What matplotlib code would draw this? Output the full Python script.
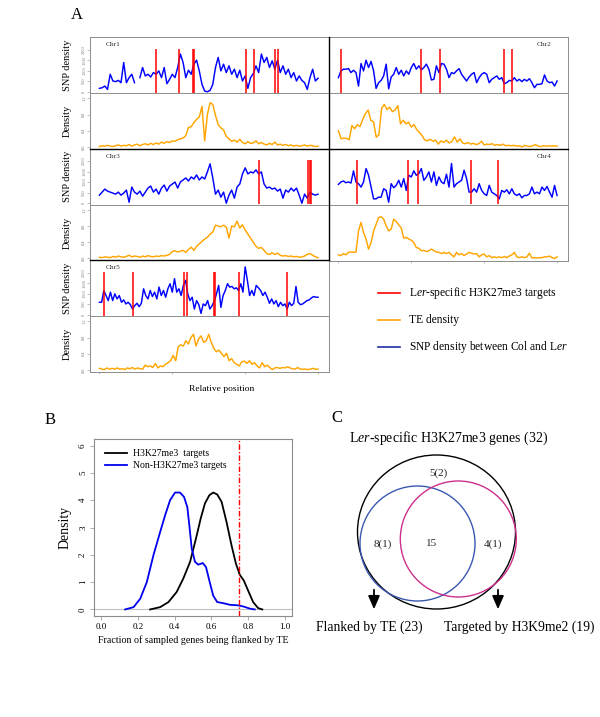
import numpy as np
import matplotlib
matplotlib.use('Agg')
from matplotlib import pyplot as plt
from matplotlib.lines import Line2D
from matplotlib.patches import Ellipse

plt.rcParams['font.family'] = ['Liberation Serif', 'DejaVu Serif']
plt.rcParams['mathtext.fontset'] = 'custom'
plt.rcParams['mathtext.rm'] = 'Liberation Serif'
plt.rcParams['mathtext.it'] = 'Liberation Serif:italic'

# ---- panel A data (relative position 0..1, evenly spaced) ----
chr1_snp = [160, 190, 270, 110, 830, 510, 480, 540, 430, 1390, 430, 670, 830, 430, np.nan,
            670, 1150, 750, 830, 700, 910, 830, 990, 670, 1150, 380, 590, 830, 670, 1150,
            1790, 1390, 670, 1020, 830, 1310, 1500, 990, 350, 30, 0, 60, 350, 1150, 1630,
            990, 1310, 910, 1230, 830, 1070, 670, 1020, 510, 750, 160, 670, 860, 1230, 910,
            1790, 1390, 1630, 1150, 1470, 1070, 1500, 910, 1230, 830, 1070, 670, 910, 510,
            750, 540, 430, 110, 670, 1070, 510, 640]
chr1_te = [0.01, 0.03, 0.02, 0.04, 0.02, 0.01, 0.03, 0.05, 0.02, 0.04, 0.03, 0.06, 0.02, 0.05,
           0.07, 0.03, 0.06, 0.08, 0.05, 0.09, 0.06, 0.10, 0.07, 0.12, 0.09, 0.13, 0.11, 0.15,
           0.14, 0.18, 0.20, 0.22, 0.28, 0.48, 0.50, 0.60, 0.68, 0.74, 1.00, 0.15, 0.80, 1.09,
           1.05, 0.78, 0.55, 0.47, 0.42, 0.26, 0.20, 0.14, 0.17, 0.12, 0.19, 0.11, 0.08, 0.13,
           0.09, 0.10, 0.15, 0.08, 0.11, 0.07, 0.05, 0.09, 0.06, 0.12, 0.05, 0.07, 0.04, 0.06,
           0.03, 0.05, 0.02, 0.04, 0.02, 0.03, 0.05, 0.02, 0.04, 0.03, 0.01, 0.02]
chr1_targets = [0.257, 0.364, 0.426, 0.431, 0.671, 0.708, 0.801, 0.819]

chr2_snp = [670, 990, 1070, 1070, 1100, 910, 1020, 910, 270, 1340, 990, 1500, 1150, 1440, 990,
            160, 430, 540, 750, 1310, 140, 700, 830, 1150, 830, 1020, 750, 990, 830, 1150,
            1340, 1070, 1230, 1040, 1150, 1310, 1070, 560, 590, 1230, 910, 1340, 1310, 1070,
            670, 910, 860, 990, 1100, 830, 670, 510, 700, 830, 910, 430, 670, 830, 910, 830,
            430, 590, 670, 750, 590, 670, 380, 430, 540, 510, 670, 510, 590, 480, 590, 510,
            620, 430, 190, 350, 350, 380, 800, 510, 430, 460, 270, 510]
chr2_te = [0.40, 0.20, 0.22, 0.21, 0.18, 0.53, 0.45, 0.55, 0.50, 0.68, 0.82, 0.91, 0.66, 0.62,
           0.24, 0.30, 0.95, 1.05, 0.92, 0.98, 0.87, 0.91, 1.02, 0.57, 0.66, 0.57, 0.61, 0.49,
           0.55, 0.43, 0.36, 0.28, 0.17, 0.15, 0.19, 0.14, 0.17, 0.07, 0.15, 0.11, 0.17, 0.10,
           0.13, 0.25, 0.12, 0.20, 0.10, 0.08, 0.11, 0.07, 0.09, 0.06, 0.08, 0.14, 0.05, 0.07,
           0.06, 0.08, 0.04, 0.06, 0.04, 0.07, 0.03, 0.04, 0.03, 0.04, 0.02, 0.03, 0.00, 0.04,
           0.02, 0.01, 0.03, 0.06, 0.02, 0.01, 0.03, 0.02, 0.03, 0.02, 0.03, 0.02]
chr2_targets = [0.012, 0.376, 0.463, 0.756, 0.793]

chr3_snp = [384, 528, 672, 576, 528, 480, 432, 528, 384, 480, 624, 48, 768, 528, 432, 576, 336,
            528, 720, 816, 528, 672, 432, 720, 864, 576, 816, 912, 1008, 720, 1008, 1104, 1200,
            1056, 1248, 1152, 1344, 1104, 1248, 1152, 1488, 1872, 1200, 432, 624, 288, 528, 0,
            384, 624, 240, 768, 912, 1392, 1680, 1392, 1488, 1440, 1584, 1392, 1488, 912, 720,
            768, 672, 720, 576, 672, 240, 624, 528, 720, 576, 720, 384, 0, 432, 240, 528, 432,
            384, 432]
chr3_te = [0.03, 0.02, 0.04, 0.03, 0.02, 0.05, 0.03, 0.06, 0.04, 0.03, 0.05, 0.08, 0.04, 0.06,
           0.05, 0.03, 0.06, 0.04, 0.07, 0.05, 0.04, 0.06, 0.05, 0.07, 0.06, 0.08, 0.10, 0.17,
           0.19, 0.16, 0.18, 0.20, 0.15, 0.22, 0.28, 0.20, 0.30, 0.36, 0.42, 0.48, 0.52, 0.60,
           0.65, 0.82, 0.80, 0.78, 0.82, 0.77, 0.50, 0.80, 0.78, 0.92, 0.75, 0.83, 0.70, 0.60,
           0.50, 0.40, 0.30, 0.25, 0.27, 0.20, 0.12, 0.10, 0.14, 0.10, 0.13, 0.08, 0.06, 0.07,
           0.05, 0.06, 0.04, 0.05, 0.03, 0.04, 0.06, 0.10, 0.12, 0.08, 0.04, 0.02]
chr3_targets = [0.729, 0.955, 0.961, 0.967]

chr4_snp = [896, 1008, 1056, 976, 1008, 960, 1536, 1008, 928, 768, 1008, 1648, 1328, 768, 208,
            208, 288, 288, 688, 608, 48, 928, 736, 848, 1088, 768, 1168, 608, 1328, 1248, 1536,
            1328, 1408, 1648, 1088, 1248, 1488, 1008, 1488, 848, 1248, 1008, 928, 1376, 768,
            1888, 768, 928, 1008, 1088, 1568, 1168, 528, 528, 688, 528, 928, 608, 448, 368, 848,
            528, 448, 368, 208, 608, 528, 640, 448, 688, 448, 368, 448, 256, 368, 368, 448, 768,
            448, 528, 448, 768, 608, 800, 528, 288, 848, 368]
chr4_te = [0.09, 0.07, 0.12, 0.09, 0.15, 0.16, 0.15, 0.16, 0.68, 0.89, 0.64, 0.48, 0.23, 0.39,
           0.68, 0.84, 1.01, 1.03, 0.97, 0.80, 0.68, 0.72, 0.97, 0.91, 0.83, 0.75, 0.50, 0.52,
           0.48, 0.45, 0.39, 0.27, 0.25, 0.19, 0.20, 0.17, 0.19, 0.23, 0.19, 0.16, 0.15, 0.12,
           0.15, 0.12, 0.15, 0.09, 0.04, 0.15, 0.09, 0.12, 0.07, 0.11, 0.15, 0.13, 0.11, 0.12,
           0.04, 0.09, 0.11, 0.04, 0.07, 0.02, 0.04, 0.02, 0.04, 0.02, 0.05, 0.02, 0.06, 0.09,
           0.15, 0.04, 0.02, 0.04, 0.02, 0.04, 0.13, 0.01, 0.02, 0.01, 0.02, 0.02, 0.04, 0.04,
           0.06, 0.02, 0.00, 0.04]
chr4_targets = [0.086, 0.318, 0.366, 0.605, 0.729]

chr5_snp = [592, 592, 1152, 912, 672, 1072, 672, 992, 752, 912, 592, 704, 512, 592, 480, 272,
            432, 544, 384, 544, 1232, 912, 752, 1152, 864, 1072, 752, 1312, 912, 1152, 832,
            1232, 1472, 1072, 1712, 1072, 1232, 912, 1392, 1632, 992, 672, 832, 272, 672, 480,
            64, 512, 432, 672, 272, 432, 640, 992, 1392, 352, 912, 1152, 1472, 1312, 1344, 1232,
            1280, 1152, 1472, 1072, 2272, 1632, 912, 1152, 912, 1392, 1280, 1152, 912, 1072,
            832, 544, 752, 512, 672, 384, 592, 432, 512, 272, 592, 432, 544, 1344, 592, 480,
            512, 592, 672, 704, 800, 864, 832, 832]
chr5_te = [0.04, 0.02, 0.01, 0.05, 0.02, 0.04, 0.02, 0.05, 0.02, 0.03, 0.01, 0.05, 0.03, 0.06,
           0.02, 0.05, 0.03, 0.02, 0.12, 0.08, 0.10, 0.06, 0.16, 0.05, 0.10, 0.08, 0.14, 0.18,
           0.23, 0.36, 0.23, 0.57, 0.62, 0.59, 0.72, 0.64, 0.80, 0.88, 0.59, 0.76, 0.84, 0.68,
           0.72, 0.88, 0.68, 0.53, 0.45, 0.49, 0.41, 0.33, 0.41, 0.23, 0.28, 0.18, 0.14, 0.10,
           0.20, 0.22, 0.16, 0.23, 0.14, 0.18, 0.10, 0.05, 0.18, 0.08, 0.12, 0.06, 0.01, 0.05,
           0.06, 0.04, 0.06, 0.05, 0.08, 0.05, 0.03, 0.02, 0.06, 0.02, 0.02, 0.02, 0.01, 0.02,
           0.04, 0.02, 0.02]
chr5_targets = [0.023, 0.152, 0.388, 0.399, 0.522, 0.527, 0.639, 0.860]

chrom_names = ['Chr1', 'Chr2', 'Chr3', 'Chr4', 'Chr5']
chrom_snp = [chr1_snp, chr2_snp, chr3_snp, chr4_snp, chr5_snp]
chrom_te = [chr1_te, chr2_te, chr3_te, chr4_te, chr5_te]
chrom_targets = [chr1_targets, chr2_targets, chr3_targets, chr4_targets, chr5_targets]

# ---- panel B data (density curves) ----
h3k27_x = [0.266, 0.321, 0.366, 0.411, 0.447, 0.484, 0.516, 0.542, 0.565, 0.589, 0.61, 0.632,
           0.656, 0.683, 0.71, 0.734, 0.755, 0.777, 0.80, 0.828, 0.855, 0.878]
h3k27_y = [0.0, 0.085, 0.27, 0.64, 1.13, 1.74, 2.59, 3.33, 3.88, 4.18, 4.28, 4.21, 3.94, 3.2,
           2.35, 1.68, 1.27, 1.06, 0.70, 0.27, 0.05, 0.0]
non_x = [0.130, 0.176, 0.212, 0.248, 0.284, 0.321, 0.348, 0.375, 0.402, 0.429, 0.451, 0.469,
         0.48, 0.493, 0.511, 0.529, 0.553, 0.571, 0.589, 0.61, 0.632, 0.665, 0.701, 0.746,
         0.774, 0.81, 0.837]
non_y = [0.0, 0.085, 0.39, 1.0, 1.98, 2.84, 3.45, 4.0, 4.28, 4.28, 4.12, 3.75, 3.08, 2.23,
         1.74, 1.64, 1.70, 1.55, 1.06, 0.51, 0.27, 0.23, 0.17, 0.15, 0.11, 0.03, 0.0]
cutoff = 0.75

# ---- panel C data (venn, pixel geometry) ----
venn_centers = [(436.5, 532), (417.5, 543.5), (458.3, 539)]
venn_sizes = [(158, 154), (115, 115), (116, 116)]
venn_colors = ['black', '#3a58b0', '#cc2f8c']
venn_counts = ['5(2)', '8(1)', '15', '4(1)']
venn_count_pos = [(438, 473), (383, 544), (432, 544), (493, 544)]

BLUE = '#0000ff'
ORANGE = '#ffa500'
RED = '#ff0000'
GRAY = '#8c8c8c'

W, H = 600, 717
fig = plt.figure(figsize=(W / 100, H / 100), dpi=100)


def px_axes(x0, y0, x1, y1):
    return fig.add_axes([x0 / W, 1 - y1 / H, (x1 - x0) / W, (y1 - y0) / H])


def fig_line(xs, ys, **kw):
    fig.add_artist(Line2D([x / W for x in xs], [1 - y / H for y in ys],
                          transform=fig.transFigure, **kw))


def fig_text(x, y, s, **kw):
    fig.text(x / W, 1 - y / H, s, **kw)


def grey_box(ax, lw=0.7):
    for sp in ax.spines.values():
        sp.set_color(GRAY)
        sp.set_linewidth(lw)


# ---- panel A ----
col_x = [(90, 329), (329, 568)]
row_top = [37, 148.5, 260]
sub_h = 56
places = [(0, 0), (1, 0), (0, 1), (1, 1), (0, 2)]

for name, snp, te, targets, (c, r) in zip(chrom_names, chrom_snp, chrom_te,
                                          chrom_targets, places):
    x0, x1 = col_x[c]
    top = row_top[r]
    ax_s = px_axes(x0, top, x1, top + sub_h)
    ax_d = px_axes(x0, top + sub_h, x1, top + 2 * sub_h)

    ax_s.plot(np.linspace(0, 1, len(snp)), snp, color=BLUE, lw=1.05)
    ax_s.vlines(targets, -60, 2030, color=RED, lw=1.1, zorder=3)
    ax_d.plot(np.linspace(0, 1, len(te)), te, color=ORANGE, lw=1.05)

    ax_s.set_ylim(-60, 2600)
    ax_d.set_ylim(-0.05, 1.33)
    for ax in (ax_s, ax_d):
        ax.set_xlim(-0.043, 1.05)
        grey_box(ax)
        ax.set_xticks([0, 1 / 3, 2 / 3, 1])
        ax.tick_params(axis='x', length=1.5, width=0.4, color=GRAY, labelbottom=False)
    if c == 0:
        ax_s.set_yticks([0, 500, 1000, 1500, 2000])
        ax_d.set_yticks([0.0, 0.4, 0.8, 1.2])
        for ax, lab in ((ax_s, 'SNP density'), (ax_d, 'Density')):
            ax.tick_params(axis='y', length=2, width=0.4, color=GRAY, labelsize=3.2,
                           labelcolor='#777777', pad=0.8, labelrotation=90)
            plt.setp(ax.get_yticklabels(), va='center')
            ax.set_ylabel(lab, fontsize=7.5)
            ax.yaxis.set_label_coords(-0.075, 0.5)
        ax_s.text(0.067, 0.86, name, transform=ax_s.transAxes, fontsize=5.3,
                  ha='left', va='center', color='#333333')
    else:
        ax_s.set_yticks([])
        ax_d.set_yticks([])
        ax_s.text(0.933, 0.86, name, transform=ax_s.transAxes, fontsize=5.3,
                  ha='right', va='center', color='#333333')

fig_line([329, 329], [37, 260], color='black', lw=1.0)
fig_line([90, 568], [148.5, 148.5], color='black', lw=1.0)
fig_line([90, 329], [260, 260], color='black', lw=1.0)

fig_text(222, 389, 'Relative position', fontsize=6.8, ha='center', va='center')

legend_a = [(RED, r'L$\mathit{er}$-specific H3K27me3 targets'),
            (ORANGE, 'TE density'),
            ('#2030a0', r'SNP density between Col and L$\mathit{er}$')]
for i, (col, lab) in enumerate(legend_a):
    y = 293 + 27 * i
    fig_line([378, 400], [y, y], color=col, lw=1.2)
    fig_text(409, y, lab, fontsize=8.3, ha='left', va='center')

# ---- panel B ----
axB = px_axes(94, 439, 292, 616)
axB.axhline(0, color='#c0c0c0', lw=0.8, zorder=0)
axB.plot(h3k27_x, h3k27_y, color='black', lw=1.3, label='H3K27me3  targets')
axB.plot(non_x, non_y, color='#0000ee', lw=1.3, label='Non-H3K27me3 targets')
axB.axvline(cutoff, color=RED, lw=1.0, ls=(0, (4, 1.5, 1, 1.5)))
axB.set_xlim(-0.04, 1.04)
axB.set_ylim(-0.24, 6.24)
grey_box(axB, 0.8)
axB.set_xticks(np.arange(0, 1.01, 0.2))
axB.set_xticklabels(['0.0', '0.2', '0.4', '0.6', '0.8', '1.0'])
axB.set_yticks(range(7))
axB.tick_params(length=3, width=0.5, color=GRAY, labelsize=6.5, pad=2)
axB.tick_params(axis='y', labelrotation=90)
plt.setp(axB.get_yticklabels(), va='center')
axB.set_ylabel('Density', fontsize=10)
axB.yaxis.set_label_coords(-0.111, 0.5)
axB.set_xlabel('Fraction of sampled genes being flanked by TE', fontsize=7.2, labelpad=3)
axB.legend(loc='upper left', bbox_to_anchor=(0.035, 0.965), frameon=False, fontsize=7,
           handlelength=2.3, handletextpad=0.6, labelspacing=0.35, borderaxespad=0)

# ---- panel C ----
axC = px_axes(330, 400, 600, 645)
axC.set_xlim(330, 600)
axC.set_ylim(645, 400)
axC.axis('off')
for (cx, cy), (w, h), col in zip(venn_centers, venn_sizes, venn_colors):
    axC.add_patch(Ellipse((cx, cy), w, h, fill=False, ec=col, lw=1.0))
for lab, (x, y) in zip(venn_counts, venn_count_pos):
    axC.text(x, y, lab, fontsize=8, ha='center', va='center', color='#222222')
axC.text(449, 438, r'L$\mathit{er}$-specific H3K27me3 genes (32)', fontsize=10,
         ha='center', va='center')
for x in (374, 498):
    axC.annotate('', xy=(x, 612), xytext=(x, 587),
                 arrowprops=dict(arrowstyle='-|>,head_width=0.35,head_length=0.8',
                                 color='black', lw=1.3, mutation_scale=10))
axC.text(369, 627, 'Flanked by TE (23)', fontsize=9.8, ha='center', va='center')
axC.text(519, 627, 'Targeted by H3K9me2 (19)', fontsize=9.8, ha='center', va='center')

fig_text(77, 15, 'A', fontsize=12, ha='center', va='center')
fig_text(50, 420, 'B', fontsize=12, ha='center', va='center')
fig_text(337, 418, 'C', fontsize=12, ha='center', va='center')

fig.savefig('out.png', dpi=100)
